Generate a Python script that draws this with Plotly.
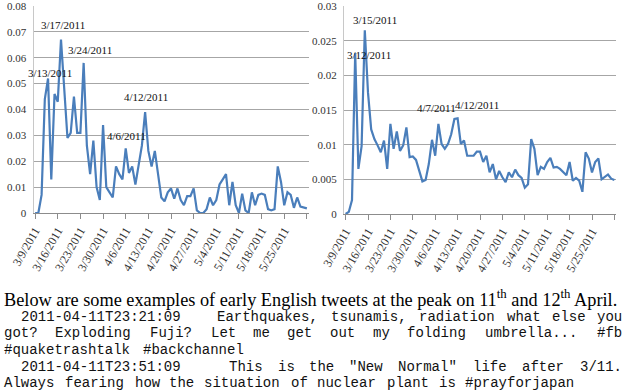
import pandas as pd
import plotly.graph_objects as go

# --- data ---
start_date = "2011-03-09"

# daily share of tweets, left panel
left_values = [
    0, 0, 0.007, 0.044, 0.052, 0.013, 0.046, 0.043, 0.067, 0.048,
    0.029, 0.031, 0.045, 0.031, 0.031, 0.058, 0.026, 0.015, 0.028, 0.010,
    0.005, 0.034, 0.010, 0.008, 0.006, 0.018, 0.015, 0.013, 0.025, 0.0155,
    0.018, 0.011, 0.019, 0.026, 0.039, 0.024, 0.018, 0.024, 0.015, 0.006,
    0.0045, 0.008, 0.0095, 0.0055, 0.0095, 0.005, 0.003, 0.0065, 0.0065, 0.0095,
    0.001, 0, 0, 0.0015, 0.006, 0.003, 0.005, 0.011, 0.013, 0.015,
    0.003, 0.012, 0.003, 0, 0.0075, 0.001, 0, 0.008, 0.003, 0.007,
    0.0075, 0.007, 0.0015, 0.001, 0.0015, 0.018, 0.012, 0.003, 0.008, 0.007,
    0.002, 0.006, 0.0025, 0.002, 0.0018,
]

# daily share of tweets, right panel
right_values = [
    0, 0.0003, 0.002, 0.0232, 0.0065, 0.0098, 0.0265, 0.0175, 0.0122, 0.0108,
    0.0099, 0.0089, 0.0106, 0.0065, 0.013, 0.0094, 0.0119, 0.0091, 0.0099, 0.0125,
    0.0082, 0.0083, 0.0078, 0.0063, 0.0047, 0.0049, 0.0072, 0.0107, 0.0084, 0.013,
    0.0101, 0.0094, 0.0101, 0.0115, 0.0137, 0.0138, 0.0101, 0.0106, 0.0084, 0.0084,
    0.0084, 0.009, 0.009, 0.0075, 0.0084, 0.006, 0.0072, 0.005, 0.0062, 0.0053,
    0.0046, 0.006, 0.0053, 0.0064, 0.0056, 0.0052, 0.0038, 0.0043, 0.0108, 0.0094,
    0.0056, 0.0068, 0.0065, 0.0075, 0.0081, 0.0067, 0.0068, 0.0065, 0.006, 0.0056,
    0.0075, 0.0048, 0.0052, 0.0048, 0.0032, 0.0089, 0.008, 0.006, 0.0075, 0.008,
    0.005, 0.0054, 0.0057, 0.0051, 0.0049,
]

tick_labels = [
    "3/9/2011", "3/16/2011", "3/23/2011", "3/30/2011", "4/6/2011", "4/13/2011",
    "4/20/2011", "4/27/2011", "5/4/2011", "5/11/2011", "5/18/2011", "5/25/2011",
]
left_yticks = [0, 0.01, 0.02, 0.03, 0.04, 0.05, 0.06, 0.07, 0.08]
left_ylabels = ["0", "0.01", "0.02", "0.03", "0.04", "0.05", "0.06", "0.07", "0.08"]
right_yticks = [0, 0.005, 0.01, 0.015, 0.02, 0.025, 0.03]
right_ylabels = ["0", "0.005", "0.01", "0.015", "0.02", "0.025", "0.03"]

# labelled peaks: (label, x shift px, y shift px)
left_peaks = [
    ("3/13/2011", 2, 5),
    ("3/17/2011", 1.5, 14.5),
    ("3/24/2011", 6, 13),
    ("4/6/2011", 1, 12),
    ("4/12/2011", 1, 15.5),
]
right_peaks = [
    ("3/12/2011", 14, -1.7),
    ("3/15/2011", 9.7, 10),
    ("4/7/2011", -2.4, 16),
    ("4/12/2011", 23, 14),
]

heading = ("Below are some examples of early English tweets at the peak on "
           "11<sup>th</sup> and 12<sup>th</sup> April.")
# (line, justified)
tweet_lines = [
    ("  2011-04-11T23:21:09   Earthquakes, tsunamis, radiation what else you", True),
    ("got? Exploding Fuji? Let me get out my folding umbrella... #fb", True),
    ("#quaketrashtalk #backchannel", False),
    ('  2011-04-11T23:51:09   This is the "New Normal" life after 3/11.', True),
    ("Always fearing how the situation of nuclear plant is #prayforjapan", False),
]

W, H = 640, 390
LINE = "#4a7ebb"
SERIF = "Liberation Serif"
MONO = "Liberation Mono"
CW = 8.7          # column width of the typewriter text, px
TX0, TX1 = 3, 622

dates = pd.date_range(start_date, periods=len(left_values), freq="D")
tick_vals = pd.to_datetime(tick_labels, format="%m/%d/%Y")
x_range = [dates[0] - pd.Timedelta(hours=12), dates[-1] + pd.Timedelta(hours=12)]
week_ms = 7 * 86400000

fig = go.Figure()
fig.add_trace(go.Scatter(x=dates, y=left_values, mode="lines", hoverinfo="skip",
                         line=dict(color=LINE, width=2.2), xaxis="x", yaxis="y"))
fig.add_trace(go.Scatter(x=dates, y=right_values, mode="lines", hoverinfo="skip",
                         line=dict(color=LINE, width=2.2), xaxis="x2", yaxis="y2"))


def xaxis_style(domain, anchor):
    return dict(
        domain=domain, range=x_range, type="date", anchor=anchor, automargin=False,
        tickmode="array", tickvals=tick_vals, ticktext=tick_labels,
        tickangle=-60, ticks="outside", ticklen=5, tickcolor="#8c8c8c",
        showline=True, linecolor="#8c8c8c", showgrid=False, zeroline=False,
        ticklabeloverflow="allow",
        tickfont=dict(family=SERIF, size=12, color="#333"),
        minor=dict(ticks="outside", ticklen=5, tickcolor="#8c8c8c",
                   tick0=start_date, dtick=week_ms, showgrid=False),
    )


def yaxis_style(domain, ticks, labels, anchor):
    return dict(
        domain=domain, range=[0, ticks[-1]], anchor=anchor, automargin=False,
        tickmode="array", tickvals=ticks, ticktext=labels,
        showgrid=True, gridcolor="#a6a6a6", gridwidth=1, zeroline=False,
        showline=True, linecolor="#c8c8c8", ticks="", ticklabelstandoff=4,
        ticklabeloverflow="allow",
        tickfont=dict(family=SERIF, size=11, color="#333"),
    )


fig.update_layout(
    width=W, height=H, margin=dict(l=0, r=0, t=0, b=0),
    paper_bgcolor="white", plot_bgcolor="white", showlegend=False,
    xaxis=xaxis_style([33.5 / W, 308.5 / W], "y"),
    yaxis=yaxis_style([1 - 213 / H, 1 - 6 / H], left_yticks, left_ylabels, "x"),
    xaxis2=xaxis_style([344 / W, 616 / W], "y2"),
    yaxis2=yaxis_style([1 - 214 / H, 1 - 6 / H], right_yticks, right_ylabels, "x2"),
)

annotations = []
for peaks, values, xa, ya in [(left_peaks, left_values, "x", "y"),
                              (right_peaks, right_values, "x2", "y2")]:
    for label, dx, dy in peaks:
        d = pd.to_datetime(label, format="%m/%d/%Y")
        v = values[list(dates).index(d)]
        annotations.append(dict(
            x=d, y=v, xref=xa, yref=ya, text=label, showarrow=False,
            xshift=dx, yshift=dy, xanchor="center", yanchor="middle",
            font=dict(family=SERIF, size=11, color="#111"),
        ))

annotations.append(dict(
    x=TX0 / W, y=1 - 298 / H, xref="paper", yref="paper", text=heading,
    showarrow=False, xanchor="left", yanchor="middle", borderpad=0,
    font=dict(family=SERIF, size=18.3, color="black"),
))


def word_positions(line, justify):
    words = []
    i = 0
    while i < len(line):
        if line[i] == " ":
            i += 1
            continue
        j = i
        while j < len(line) and line[j] != " ":
            j += 1
        words.append((i, line[i:j]))
        i = j
    first = words[0][0]
    inner = line[first:].count(" ")
    extra = (TX1 - TX0 - len(line) * CW) / inner if (justify and inner) else 0
    out = []
    for col, w in words:
        sp = line[first:col].count(" ")
        out.append((TX0 + col * CW + sp * extra, w))
    return out


line_y = [316.5, 333.3, 350, 366.7, 382.5]
for (line, justify), yc in zip(tweet_lines, line_y):
    for px, word in word_positions(line, justify):
        annotations.append(dict(
            x=px / W, y=1 - yc / H, xref="paper", yref="paper", text=word,
            showarrow=False, xanchor="left", yanchor="middle", borderpad=0,
            font=dict(family=MONO, size=14, color="#111"),
        ))

fig.update_layout(annotations=annotations)
# the page body carries a default 8px margin; drop it so the figure sits at 0,0
fig.write_html("out.html", config={"displayModeBar": False},
               post_script="document.body.style.margin='0';document.body.style.padding='0';")
